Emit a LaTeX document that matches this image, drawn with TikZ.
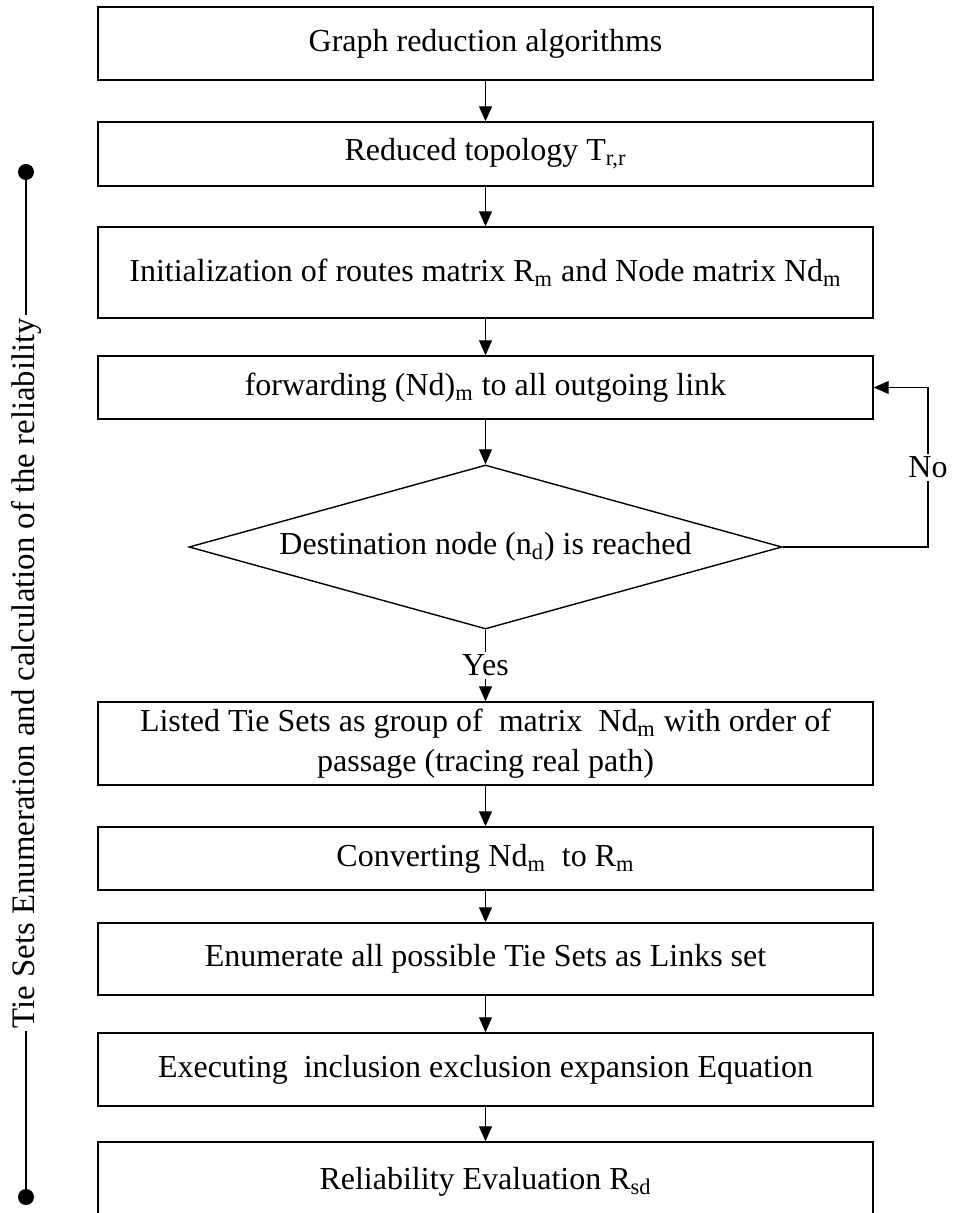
\documentclass[tikz,border=0pt]{standalone}
\usepackage{fontspec}
\setmainfont{Liberation Serif}
\usetikzlibrary{shapes.geometric,arrows.meta}

\begin{document}
\begin{tikzpicture}[x=0.5pt,y=-0.5pt,
  every node/.style={font=\fontsize{16pt}{20pt}\selectfont},
  stepbox/.style={draw, line width=0.7pt, minimum width=387.5pt, inner sep=0pt, align=center, fill=white},
  decision/.style={draw, diamond, line width=0.7pt, shape aspect=3.6, minimum width=296.5pt, minimum height=82pt, inner sep=0pt},
  arr/.style={line width=0.55pt, -{Triangle[width=6.5pt,length=7.5pt]}},
  lbl/.style={fill=white, inner sep=1.5pt},
  enddot/.style={circle, fill=black, inner sep=0pt, minimum size=8pt},
]
% page frame
\clip (0,0) rectangle (952,1213);

% process steps
\node[stepbox, minimum height=36.5pt] (b1) at (485.5,43.5) {Graph reduction algorithms};
\node[stepbox, minimum height=32pt] (b2) at (485.5,154) {Reduced topology T\textsubscript{r,r}};
\node[stepbox, minimum height=45.5pt] (b3) at (485.5,272.5) {Initialization of routes matrix R\textsubscript{m} and Node matrix Nd\textsubscript{m}};
\node[stepbox, minimum height=31.5pt] (b4) at (485.5,387.5) {forwarding (Nd)\textsubscript{m} to all outgoing link};
\node[decision] (dec) at (485.5,547) {Destination node (n\textsubscript{d}) is reached};
\node[stepbox, minimum height=41.5pt] (b5) at (485.5,743.5) {Listed Tie Sets as group of~ matrix~ Nd\textsubscript{m} with order of\\passage (tracing real path)};
\node[stepbox, minimum height=31.5pt] (b6) at (485.5,858.5) {Converting Nd\textsubscript{m}~ to R\textsubscript{m}};
\node[stepbox, minimum height=36pt] (b7) at (485.5,959) {Enumerate all possible Tie Sets as Links set};
\node[stepbox, minimum height=36.5pt] (b8) at (485.5,1069.5) {Executing~ inclusion exclusion expansion Equation};
\node[stepbox, minimum height=40pt] (b9) at (485.5,1182) {Reliability Evaluation R\textsubscript{sd}};

% flow arrows
\draw[arr] (b1) -- (b2);
\draw[arr] (b2) -- (b3);
\draw[arr] (b3) -- (b4);
\draw[arr] (b4) -- (dec);
\draw[arr] (dec) -- node[lbl] (yes) {Yes} (b5);
\draw[arr] (b5) -- (b6);
\draw[arr] (b6) -- (b7);
\draw[arr] (b7) -- (b8);
\draw[arr] (b8) -- (b9);

% loop back when the destination is not reached
\coordinate (loopx) at (928,0);
\draw[arr] (dec.east) -- (dec.east -| loopx) -- node[lbl] (no) {No} (b4.east -| loopx) -- (b4.east);

% side bracket
\node[enddot] (topdot) at (26,172) {};
\node[enddot] (botdot) at (26,1197) {};
\node[rotate=90, inner sep=1pt, font=\fontsize{16.4pt}{20pt}\selectfont] (side) at (26,673) {Tie Sets Enumeration and calculation of the reliability};
\draw[line width=0.55pt] (topdot) -- (side.east);
\draw[line width=0.55pt] (side.west) -- (botdot);
\end{tikzpicture}
\end{document}
